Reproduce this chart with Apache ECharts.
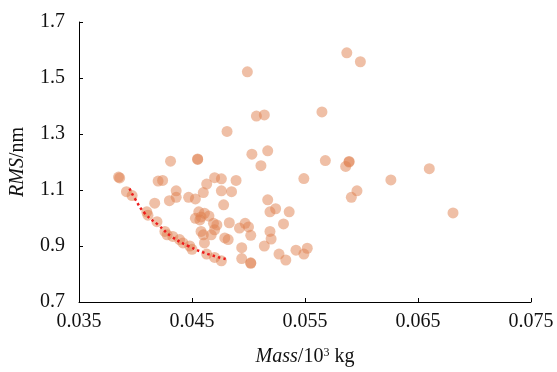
<!DOCTYPE html>
<html>
<head>
<meta charset="utf-8">
<script src="https://cdn.jsdelivr.net/npm/echarts@6/dist/echarts.min.js"></script>
<style>
html,body{margin:0;padding:0;background:#fff;}
#chart{width:557px;height:372px;}
</style>
</head>
<body>
<div id="chart"></div>
<script>
// Scatter samples: Mass (10^3 kg) and RMS (nm)
const massValues = [
  0.0385, 0.0386, 0.0392, 0.0397, 0.0420, 0.0424, 0.0431, 0.0455, 0.0455, 0.0503,
  0.0517, 0.0511, 0.0499, 0.0507, 0.0514, 0.0481, 0.0587, 0.0599, 0.0565, 0.0568,
  0.0589, 0.0589, 0.0586, 0.0549, 0.0660, 0.0626, 0.0596, 0.0591, 0.0681, 0.0470,
  0.0476, 0.0489, 0.0463, 0.0436, 0.0436, 0.0430, 0.0447, 0.0453, 0.0460, 0.0476,
  0.0485, 0.0417, 0.0410, 0.0411, 0.0419, 0.0426, 0.0428, 0.0433, 0.0439, 0.0442,
  0.0448, 0.0450, 0.0478, 0.0517, 0.0519, 0.0524, 0.0536, 0.0531, 0.0453, 0.0458,
  0.0456, 0.0461, 0.0457, 0.0465, 0.0469, 0.0472, 0.0470, 0.0467, 0.0483, 0.0497,
  0.0500, 0.0492, 0.0502, 0.0482, 0.0479, 0.0519, 0.0520, 0.0514, 0.0494, 0.0494,
  0.0502, 0.0502, 0.0458, 0.0460, 0.0461, 0.0463, 0.0470, 0.0476, 0.0527, 0.0533,
  0.0542, 0.0552, 0.0549
];
const rmsValues = [
  1.146, 1.143, 1.094, 1.080, 1.132, 1.134, 1.203, 1.209, 1.211, 1.228,
  1.240, 1.187, 1.522, 1.364, 1.368, 1.309, 1.590, 1.558, 1.379, 1.205,
  1.202, 1.200, 1.184, 1.141, 1.176, 1.136, 1.097, 1.074, 1.018, 1.144,
  1.140, 1.134, 1.121, 1.097, 1.074, 1.062, 1.074, 1.068, 1.091, 1.097,
  1.094, 1.053, 1.022, 1.010, 0.987, 0.952, 0.940, 0.934, 0.923, 0.911,
  0.900, 0.888, 1.047, 1.065, 1.022, 1.033, 1.022, 0.979, 0.999, 1.004,
  1.022, 1.017, 0.993, 1.007, 0.981, 0.975, 0.958, 0.940, 0.983, 0.981,
  0.968, 0.964, 0.938, 0.923, 0.929, 0.952, 0.925, 0.900, 0.894, 0.855,
  0.838, 0.840, 0.952, 0.940, 0.911, 0.871, 0.859, 0.847, 0.871, 0.850,
  0.885, 0.892, 0.871
];
// Fitted curve (red dotted)
const fitMass = [0.03947, 0.03996, 0.04084, 0.04202, 0.04319, 0.04467, 0.04643, 0.04804];
const fitRms  = [1.105, 1.068, 1.016, 0.975, 0.934, 0.900, 0.871, 0.853];
// Axis ticks
const xTicks = [0.035, 0.045, 0.055, 0.065, 0.075];
const yTicks = [0.7, 0.9, 1.1, 1.3, 1.5, 1.7];

const scatterData = massValues.map((m, i) => [m, rmsValues[i]]);
const fitData = fitMass.map((m, i) => [m, fitRms[i]]);

const FONT = 'Liberation Serif';
const chart = echarts.init(document.getElementById('chart'), null, {renderer: 'canvas'});
chart.setOption({
  animation: false,
  backgroundColor: '#ffffff',
  grid: {left: 77, right: 26, top: 22, bottom: 63, containLabel: false},
  xAxis: {
    type: 'value',
    min: xTicks[0], max: xTicks[xTicks.length - 1],
    interval: xTicks[1] - xTicks[0],
    splitLine: {show: false},
    axisLine: {lineStyle: {color: '#000', width: 1}},
    axisTick: {inside: true, length: 4, lineStyle: {color: '#000'}},
    axisLabel: {
      color: '#111', fontFamily: FONT, fontSize: 20, margin: 10,
      formatter: v => v.toFixed(3)
    },
    name: '{i|Mass}/10{sup|3} kg',
    nameLocation: 'middle',
    nameGap: 45,
    nameTextStyle: {
      color: '#111', fontFamily: FONT, fontSize: 20,
      rich: {
        i: {fontFamily: FONT, fontSize: 20, fontStyle: 'italic', color: '#111'},
        sup: {fontFamily: FONT, fontSize: 12, color: '#111', verticalAlign: 'top', padding: [0, 0, 8, 0]}
      }
    }
  },
  yAxis: {
    type: 'value',
    min: yTicks[0], max: yTicks[yTicks.length - 1],
    interval: yTicks[1] - yTicks[0],
    splitLine: {show: false},
    axisLine: {show: true, lineStyle: {color: '#000', width: 1}},
    axisTick: {show: true, inside: true, length: 4, lineStyle: {color: '#000'}},
    axisLabel: {
      color: '#111', fontFamily: FONT, fontSize: 20, margin: 14,
      formatter: v => v.toFixed(1)
    },
    name: '{i|RMS}/nm',
    nameLocation: 'middle',
    nameGap: 51,
    nameRotate: 90,
    nameTextStyle: {
      color: '#111', fontFamily: FONT, fontSize: 20,
      rich: {
        i: {fontFamily: FONT, fontSize: 20, fontStyle: 'italic', color: '#111'}
      }
    }
  },
  series: [
    {
      type: 'scatter',
      data: scatterData,
      symbol: 'circle',
      symbolSize: 11,
      itemStyle: {color: '#e0804d', opacity: 0.5},
      z: 2
    },
    {
      type: 'line',
      data: fitData,
      smooth: true,
      showSymbol: false,
      symbol: 'none',
      lineStyle: {color: '#ee1c1c', width: 2.5, type: [2.5, 3]},
      z: 3
    }
  ]
});
</script>
</body>
</html>
